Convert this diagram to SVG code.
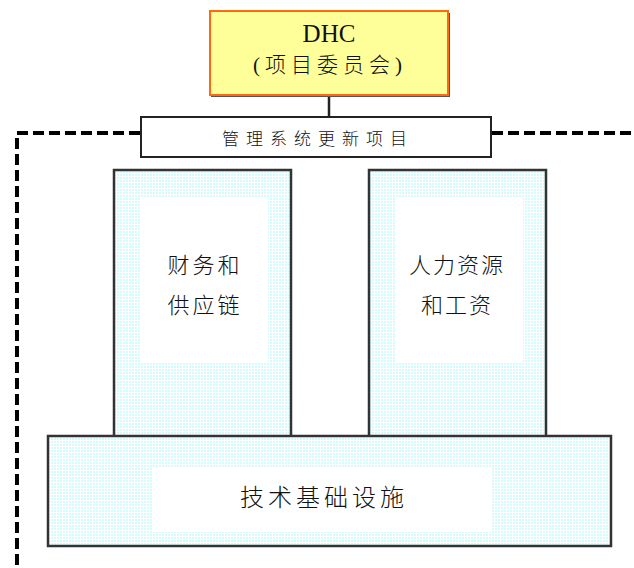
<svg xmlns="http://www.w3.org/2000/svg" width="634" height="568" viewBox="0 0 634 568">
<defs>
<pattern id="dots" width="3" height="3" patternUnits="userSpaceOnUse">
<rect width="3" height="3" fill="#ffffff"/>
<rect width="2" height="2" fill="#d6fbfb"/>
</pattern>
<style>
.cjk{font-family:"Noto Sans CJK SC","Noto Sans CJK JP",sans-serif;fill:#111;text-anchor:middle}
.box{stroke:#333;stroke-width:2.5;fill:url(#dots)}
.inner{fill:#ffffff}
.dash{fill:none;stroke:#000;stroke-width:4;stroke-dasharray:11 5}
</style>
</defs>
<g id="connectors">
<line x1="329" y1="96" x2="329" y2="117" stroke="#222" stroke-width="2.5"/>
<path class="dash" d="M140 133 H17 V568"/>
<path class="dash" d="M492 133 H634"/>
</g>
<g id="dhc">
<rect x="211" y="13" width="239" height="84" fill="#555"/>
<rect x="210" y="11" width="238" height="84" fill="#ffff99" stroke="#ff6a10" stroke-width="2"/>
<text x="329" y="42" font-family="Liberation Serif,serif" font-size="25" text-anchor="middle" fill="#111">DHC</text>
<text x="330" y="72" class="cjk" font-size="21" letter-spacing="5" font-weight="300"><tspan font-family="Liberation Serif,serif">(</tspan>项目委员会<tspan font-family="Liberation Serif,serif">)</tspan></text>
</g>
<g id="mgmt">
<rect x="141" y="117" width="350" height="40" fill="#fff" stroke="#222" stroke-width="2"/>
<text x="318" y="145" class="cjk" font-size="17" letter-spacing="7" font-weight="300">管理系统更新项目</text>
</g>
<g id="finance">
<rect class="box" x="114" y="170" width="177" height="268"/>
<rect class="inner" x="140" y="198" width="128" height="164"/>
<text x="205" y="273" class="cjk" font-size="22" letter-spacing="3" font-weight="300">财务和</text>
<text x="205" y="313" class="cjk" font-size="22" letter-spacing="3" font-weight="300">供应链</text>
</g>
<g id="hr">
<rect class="box" x="369" y="170" width="177" height="268"/>
<rect class="inner" x="395" y="198" width="128" height="164"/>
<text x="457" y="273" class="cjk" font-size="22" letter-spacing="2" font-weight="300">人力资源</text>
<text x="457" y="313" class="cjk" font-size="22" letter-spacing="2" font-weight="300">和工资</text>
</g>
<g id="infra">
<rect class="box" x="48" y="436" width="563" height="110"/>
<rect class="inner" x="153" y="468" width="339" height="64"/>
<text x="324" y="506" class="cjk" font-size="24" letter-spacing="4" font-weight="300">技术基础设施</text>
</g>
</svg>
